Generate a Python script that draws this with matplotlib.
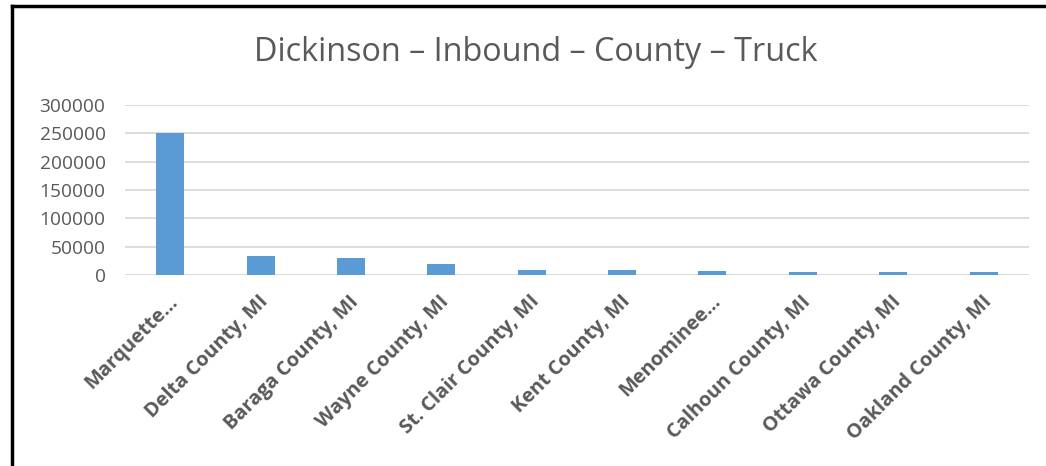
import matplotlib.pyplot as plt
from matplotlib.lines import Line2D
from matplotlib.transforms import ScaledTranslation

counties = [
    "Marquette...", "Delta County, MI", "Baraga County, MI", "Wayne County, MI",
    "St. Clair County, MI", "Kent County, MI", "Menominee...",
    "Calhoun County, MI", "Ottawa County, MI", "Oakland County, MI",
]
tons = [250000, 33500, 29000, 20000, 8800, 8800, 6500, 4500, 4500, 4500]
y_ticks = [0, 50000, 100000, 150000, 200000, 250000, 300000]

plt.rcParams['font.family'] = ['Open Sans', 'DejaVu Sans']

fig = plt.figure(figsize=(10.46, 4.66), dpi=100)
ax = fig.add_axes([0.1195, 0.41, 0.864, 0.365])

x = list(range(len(counties)))
ax.bar(x, tons, width=0.31, color='#5B9BD5', zorder=3)

ax.set_xlim(-0.5, len(counties) - 0.5)
ax.set_ylim(0, 300000)
ax.set_yticks(y_ticks)
ax.set_yticklabels([str(v) for v in y_ticks], fontsize=13.8, color='#595959')
ax.set_xticks(x)
ax.set_xticklabels(counties, rotation=45, ha='right', rotation_mode='anchor',
                   fontsize=14.3, color='#595959', fontweight='bold')
ax.tick_params(axis='both', length=0)
ax.tick_params(axis='x', pad=12)
ax.tick_params(axis='y', pad=14)
shift = ScaledTranslation(-2 / 100, 0, fig.dpi_scale_trans)
for lab in ax.get_xticklabels():
    lab.set_transform(lab.get_transform() + shift)
ax.grid(axis='y', color='#D9D9D9', linewidth=1.3, zorder=0)
for s in ax.spines.values():
    s.set_visible(False)

fig.text(0.512, 0.888, "Dickinson \u2013 Inbound \u2013 County \u2013 Truck",
         ha='center', va='center', fontsize=23.3, color='#595959')

# frame edges at top and left
fig.add_artist(Line2D([0.0115, 1.0], [0.987, 0.987], color='black', linewidth=2.5,
                      transform=fig.transFigure))
fig.add_artist(Line2D([0.0115, 0.0115], [0.0, 0.987], color='black', linewidth=2.5,
                      transform=fig.transFigure))

fig.savefig('out.png', dpi=100)
